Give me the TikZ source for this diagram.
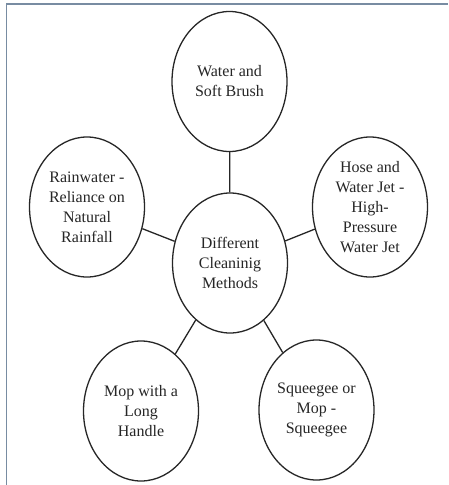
\documentclass[tikz,border=0pt]{standalone}
\usepackage{fontspec}
\setmainfont{Liberation Serif}
\usetikzlibrary{shapes.geometric}
\definecolor{framecol}{RGB}{120,140,162}
\tikzset{
  bubble/.style={ellipse, draw=black!85, line width=1.3pt, minimum width=115pt, minimum height=140pt,
    inner sep=0pt, align=center, font=\fontsize{16}{20}\selectfont, text=black!85},
  link/.style={draw=black!85, line width=1.3pt}
}
\begin{document}
\begin{tikzpicture}[x=1pt,y=-1pt]
\useasboundingbox (0,0) rectangle (448,485);
\fill[white] (0,0) rectangle (448,485);
\draw[framecol, line width=1.6pt] (6.5,485) -- (6.5,4) -- (448,4);
\node[bubble] (top) at (229.5,81.5) {Water and\\Soft Brush};
\node[bubble] (ctr) at (230,263) {Different\\Cleaninig\\Methods};
\node[bubble] (lft) at (87,207) {Rainwater -\\Reliance on\\Natural\\Rainfall};
\node[bubble] (rgt) at (370,207) {Hose and\\Water Jet -\\High-\\Pressure\\Water Jet};
\node[bubble] (bl) at (141,411) {Mop with a\\Long\\Handle};
\node[bubble] (br) at (316.5,410) {Squeegee or\\Mop -\\Squeegee};
\draw[link] (top) -- (ctr);
\draw[link] (lft) -- (ctr);
\draw[link] (rgt) -- (ctr);
\draw[link] (bl) -- (ctr);
\draw[link] (br) -- (ctr);
\end{tikzpicture}
\end{document}
